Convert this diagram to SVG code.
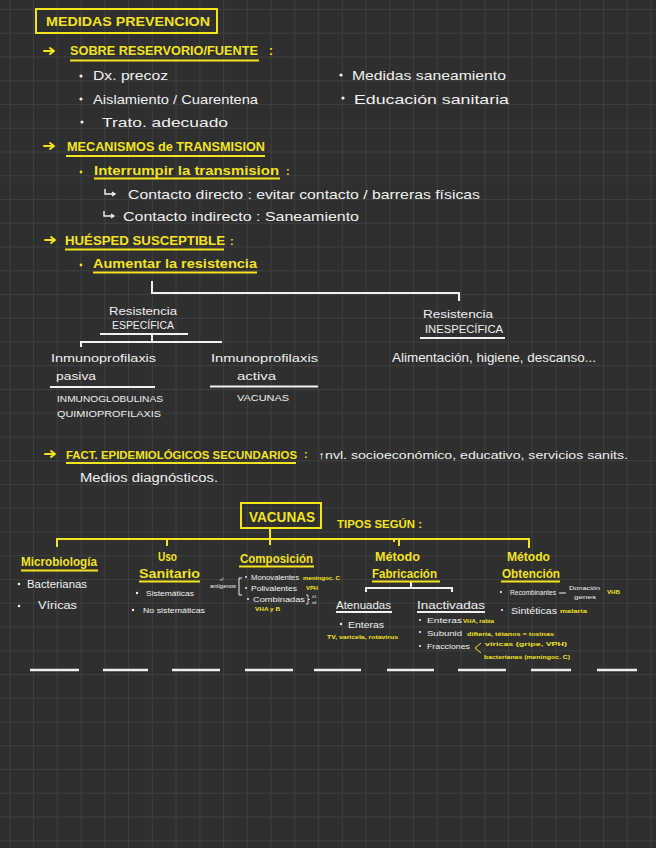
<svg xmlns="http://www.w3.org/2000/svg" width="656" height="848" viewBox="0 0 656 848">
<defs>
<pattern id="grid" x="9.3" y="9" width="23.75" height="23.75" patternUnits="userSpaceOnUse">
<path d="M0 0.5H23.75M0.5 0V23.75" stroke="#3f3f3f" stroke-width="1" fill="none"/>
</pattern>
<style>
text{font-family:"Liberation Sans","DejaVu Sans",sans-serif;}
.y{fill:#f4e41e;font-weight:bold;}
.w{fill:#f1f1f1;}
.ln{stroke:#f4e41e;stroke-width:2;fill:none;}
.wl{stroke:#f1f1f1;stroke-width:2;fill:none;}
.dot{fill:#f1f1f1;}
.ydot{fill:#f4e41e;}
.arr{stroke:#f4e41e;stroke-width:2;fill:none;stroke-linecap:round;stroke-linejoin:round;}
.hook{stroke:#f1f1f1;stroke-width:1.4;fill:none;}
</style>
</defs>
<rect width="656" height="848" fill="#2f2f2f"/>
<rect width="656" height="848" fill="url(#grid)"/>

<g id="title">
<rect x="36" y="9" width="181" height="24" class="ln"/>
<text x="46" y="26" class="y" font-size="13" textLength="164" lengthAdjust="spacingAndGlyphs">MEDIDAS PREVENCION</text>
</g>

<g id="reservorio">
<path d="M44 51H54M50 48L54 51L50 54" class="arr"/>
<text x="70" y="55" class="y" font-size="12" textLength="188" lengthAdjust="spacingAndGlyphs">SOBRE RESERVORIO/FUENTE</text>
<path d="M70 60.5H259" class="ln"/>
<text x="269" y="55" class="y" font-size="12">:</text>
<circle cx="81" cy="76" r="1.6" class="dot"/>
<text x="93" y="80" class="w" font-size="13" textLength="75" lengthAdjust="spacingAndGlyphs">Dx. precoz</text>
<circle cx="81" cy="99" r="1.6" class="dot"/>
<text x="93" y="104" class="w" font-size="13" textLength="165" lengthAdjust="spacingAndGlyphs">Aislamiento / Cuarentena</text>
<circle cx="82" cy="122" r="1.6" class="dot"/>
<text x="102" y="127" class="w" font-size="13" textLength="126" lengthAdjust="spacingAndGlyphs">Trato. adecuado</text>
<circle cx="341" cy="75" r="1.6" class="dot"/>
<text x="352" y="80" class="w" font-size="13" textLength="154" lengthAdjust="spacingAndGlyphs">Medidas saneamiento</text>
<circle cx="343" cy="98" r="1.6" class="dot"/>
<text x="354" y="104" class="w" font-size="13" textLength="155" lengthAdjust="spacingAndGlyphs">Educación sanitaria</text>
</g>

<g id="mecanismos">
<path d="M44 146H54M50 143L54 146L50 149" class="arr"/>
<text x="67" y="151" class="y" font-size="12" textLength="198" lengthAdjust="spacingAndGlyphs">MECANISMOS de TRANSMISION</text>
<path d="M66 156H265" class="ln"/>
<circle cx="81" cy="172" r="1.4" class="ydot"/>
<text x="94" y="175" class="y" font-size="12" textLength="185" lengthAdjust="spacingAndGlyphs">Interrumpir la transmision</text>
<path d="M94 178.5H280" class="ln"/>
<text x="286" y="175" class="y" font-size="11">:</text>
<path d="M105 189V194H115M112 192L115 194L112 196" class="hook"/>
<text x="128" y="199" class="w" font-size="13" textLength="352" lengthAdjust="spacingAndGlyphs">Contacto directo : evitar contacto / barreras físicas</text>
<path d="M104 211V216H114M111 214L114 216L111 218" class="hook"/>
<text x="123" y="221" class="w" font-size="13" textLength="236" lengthAdjust="spacingAndGlyphs">Contacto indirecto : Saneamiento</text>
</g>

<g id="huesped">
<path d="M45 240H55M51 237L55 240L51 243" class="arr"/>
<text x="65" y="245" class="y" font-size="12" textLength="160" lengthAdjust="spacingAndGlyphs">HUÉSPED SUSCEPTIBLE</text>
<path d="M65 249.5H224" class="ln"/>
<text x="230" y="245" class="y" font-size="11">:</text>
<circle cx="81" cy="265" r="1.4" class="ydot"/>
<text x="93" y="268" class="y" font-size="12" textLength="164" lengthAdjust="spacingAndGlyphs">Aumentar la resistencia</text>
<path d="M93 272.5H257" class="ln"/>
</g>

<g id="connectors">
<path d="M152 281V293H459V301" class="wl"/>
<path d="M152 334V342M81 347V342H222" class="wl"/>
<path d="M270 528V545M57 547V539H529V548M167 539V546M399 539V546M394 539V542" class="ln"/>
<path d="M411 581V588M366 592V588H452V592" class="wl"/>
</g>

<g id="especifica">
<text x="109" y="315" class="w" font-size="11" textLength="68" lengthAdjust="spacingAndGlyphs">Resistencia</text>
<text x="112" y="329" class="w" font-size="10" textLength="62" lengthAdjust="spacingAndGlyphs">ESPECÍFICA</text>
<path d="M100 334H188" class="wl"/>
</g>

<g id="pasiva">
<text x="51" y="362" class="w" font-size="11" textLength="105" lengthAdjust="spacingAndGlyphs">Inmunoprofilaxis</text>
<text x="56" y="380" class="w" font-size="11" textLength="40" lengthAdjust="spacingAndGlyphs">pasiva</text>
<path d="M50 387H155" class="wl"/>
<text x="57" y="402" class="w" font-size="9" textLength="106" lengthAdjust="spacingAndGlyphs">INMUNOGLOBULINAS</text>
<text x="57" y="417" class="w" font-size="9" textLength="104" lengthAdjust="spacingAndGlyphs">QUIMIOPROFILAXIS</text>
</g>

<g id="activa">
<text x="211" y="362" class="w" font-size="11" textLength="107" lengthAdjust="spacingAndGlyphs">Inmunoprofilaxis</text>
<text x="237" y="380" class="w" font-size="11" textLength="39" lengthAdjust="spacingAndGlyphs">activa</text>
<path d="M210 386.5H318" class="wl"/>
<text x="237" y="401" class="w" font-size="9" textLength="52" lengthAdjust="spacingAndGlyphs">VACUNAS</text>
</g>

<g id="inespecifica">
<text x="423" y="318" class="w" font-size="11" textLength="70" lengthAdjust="spacingAndGlyphs">Resistencia</text>
<text x="425" y="333" class="w" font-size="10" textLength="78" lengthAdjust="spacingAndGlyphs">INESPECÍFICA</text>
<path d="M420 338H505" class="wl"/>
<text x="392" y="362" class="w" font-size="12" textLength="204" lengthAdjust="spacingAndGlyphs">Alimentación, higiene, descanso...</text>
</g>

<g id="factores">
<path d="M45 454H55M51 451L55 454L51 457" class="arr"/>
<text x="66" y="459" class="y" font-size="11" textLength="231" lengthAdjust="spacingAndGlyphs">FACT. EPIDEMIOLÓGICOS SECUNDARIOS</text>
<path d="M66 463H296" class="ln"/>
<text x="304" y="458" class="y" font-size="11">:</text>
<text x="318" y="459" class="w" font-size="11" textLength="310" lengthAdjust="spacingAndGlyphs">↑nvl. socioeconómico, educativo, servicios sanits.</text>
<text x="80" y="482" class="w" font-size="12" textLength="138" lengthAdjust="spacingAndGlyphs">Medios diagnósticos.</text>
</g>

<g id="vacunas">
<rect x="241" y="503" width="80" height="25" class="ln"/>
<text x="249" y="522" class="y" font-size="15" textLength="66" lengthAdjust="spacingAndGlyphs">VACUNAS</text>
<text x="337" y="528" class="y" font-size="10" textLength="85" lengthAdjust="spacingAndGlyphs">TIPOS SEGÚN :</text>
</g>

<g id="microbiologia">
<text x="21" y="566" class="y" font-size="12" textLength="76" lengthAdjust="spacingAndGlyphs">Microbiología</text>
<path d="M21 570.5H98" class="ln"/>
<circle cx="19" cy="584" r="1.3" class="dot"/>
<text x="27" y="588" class="w" font-size="10" textLength="60" lengthAdjust="spacingAndGlyphs">Bacterianas</text>
<circle cx="19" cy="606" r="1.3" class="dot"/>
<text x="38" y="609" class="w" font-size="10" textLength="39" lengthAdjust="spacingAndGlyphs">Víricas</text>
</g>

<g id="uso-sanitario">
<text x="158" y="561" class="y" font-size="12" textLength="19" lengthAdjust="spacingAndGlyphs">Uso</text>
<text x="139" y="578" class="y" font-size="12" textLength="61" lengthAdjust="spacingAndGlyphs">Sanitario</text>
<path d="M139 581.5H200" class="ln"/>
<circle cx="137" cy="593" r="1.2" class="dot"/>
<text x="146" y="596" class="w" font-size="8" textLength="48" lengthAdjust="spacingAndGlyphs">Sistemáticas</text>
<circle cx="133" cy="610" r="1.2" class="dot"/>
<text x="143" y="613" class="w" font-size="8" textLength="62" lengthAdjust="spacingAndGlyphs">No sistemáticas</text>
</g>

<g id="composicion">
<text x="240" y="563" class="y" font-size="12" textLength="73" lengthAdjust="spacingAndGlyphs">Composición</text>
<path d="M239 566.5H314" class="ln"/>
<text x="220" y="581" class="w" font-size="4">nº</text>
<text x="210" y="588" class="w" font-size="5" textLength="26" lengthAdjust="spacingAndGlyphs">antígenos</text>
<path d="M242 578H239V595H242" stroke="#f1f1f1" stroke-width="1" fill="none"/>
<circle cx="246" cy="577" r="1" class="dot"/>
<text x="251" y="580" class="w" font-size="7" textLength="48" lengthAdjust="spacingAndGlyphs">Monovalentes</text>
<text x="303" y="580" class="y" font-size="5.5" font-weight="normal" textLength="37" lengthAdjust="spacingAndGlyphs">meningoc. C</text>
<circle cx="246" cy="588" r="1" class="dot"/>
<text x="251" y="591" class="w" font-size="7" textLength="46" lengthAdjust="spacingAndGlyphs">Polivalentes</text>
<text x="306" y="590" class="y" font-size="5.5" font-weight="normal" textLength="12" lengthAdjust="spacingAndGlyphs">VPH</text>
<circle cx="248" cy="599" r="1" class="dot"/>
<text x="253" y="602" class="w" font-size="7" textLength="52" lengthAdjust="spacingAndGlyphs">Combinadas</text>
<path d="M306 595H308V604H306M308 599.5H310" stroke="#f1f1f1" stroke-width="0.8" fill="none"/>
<text x="312" y="598" class="w" font-size="4">≥1</text>
<text x="312" y="604" class="w" font-size="4">inf</text>
<text x="255" y="611" class="y" font-size="5.5" font-weight="normal" textLength="25" lengthAdjust="spacingAndGlyphs">VHA y B</text>
</g>

<g id="fabricacion">
<text x="375" y="561" class="y" font-size="12" textLength="45" lengthAdjust="spacingAndGlyphs">Método</text>
<text x="372" y="578" class="y" font-size="12" textLength="65" lengthAdjust="spacingAndGlyphs">Fabricación</text>
<path d="M372 581.5H440" class="ln"/>
</g>

<g id="atenuadas">
<text x="336" y="609" class="w" font-size="10" textLength="55" lengthAdjust="spacingAndGlyphs">Atenuadas</text>
<path d="M336 612H392" class="wl" stroke-width="1.5"/>
<circle cx="341" cy="624" r="1.2" class="dot"/>
<text x="348" y="628" class="w" font-size="9" textLength="36" lengthAdjust="spacingAndGlyphs">Enteras</text>
<text x="327" y="639" class="y" font-size="5.5" font-weight="normal" textLength="71" lengthAdjust="spacingAndGlyphs">TV, varicela, rotavirus</text>
</g>

<g id="inactivadas">
<text x="417" y="609" class="w" font-size="10" textLength="68" lengthAdjust="spacingAndGlyphs">Inactivadas</text>
<path d="M417 612H485" class="wl" stroke-width="1.5"/>
<circle cx="420" cy="620" r="1.1" class="dot"/>
<text x="427" y="623" class="w" font-size="8" textLength="35" lengthAdjust="spacingAndGlyphs">Enteras</text>
<text x="463" y="623" class="y" font-size="5.5" font-weight="normal" textLength="31" lengthAdjust="spacingAndGlyphs">VHA, rabia</text>
<circle cx="420" cy="632" r="1.1" class="dot"/>
<text x="427" y="636" class="w" font-size="8" textLength="35" lengthAdjust="spacingAndGlyphs">Subunid</text>
<text x="467" y="636" class="y" font-size="5.5" font-weight="normal" textLength="87" lengthAdjust="spacingAndGlyphs">difteria, tétanos = toxinas</text>
<circle cx="420" cy="646" r="1.1" class="dot"/>
<text x="427" y="649" class="w" font-size="8" textLength="43" lengthAdjust="spacingAndGlyphs">Fracciones</text>
<path d="M481 643L475 648L481 653" stroke="#f4e41e" stroke-width="1" fill="none"/>
<text x="485" y="646" class="y" font-size="5.5" font-weight="normal" textLength="82" lengthAdjust="spacingAndGlyphs">víricas (gripe, VPH)</text>
<text x="484" y="659" class="y" font-size="5.5" font-weight="normal" textLength="86" lengthAdjust="spacingAndGlyphs">bacterianas (meningoc. C)</text>
</g>

<g id="obtencion">
<text x="507" y="561" class="y" font-size="12" textLength="43" lengthAdjust="spacingAndGlyphs">Método</text>
<text x="502" y="578" class="y" font-size="12" textLength="58" lengthAdjust="spacingAndGlyphs">Obtención</text>
<path d="M501 581.5H560" class="ln"/>
<circle cx="501" cy="592" r="1.1" class="dot"/>
<text x="510" y="595" class="w" font-size="8" textLength="46" lengthAdjust="spacingAndGlyphs">Recombinantes</text>
<path d="M559 593H566" stroke="#f1f1f1" stroke-width="1"/>
<text x="569" y="590" class="w" font-size="5.5" textLength="31" lengthAdjust="spacingAndGlyphs">Donación</text>
<text x="574" y="599" class="w" font-size="5.5" textLength="22" lengthAdjust="spacingAndGlyphs">genes</text>
<text x="607" y="594" class="y" font-size="5.5" font-weight="normal" textLength="13" lengthAdjust="spacingAndGlyphs">VHB</text>
<circle cx="502" cy="610" r="1.1" class="dot"/>
<text x="511" y="614" class="w" font-size="9" textLength="46" lengthAdjust="spacingAndGlyphs">Sintéticas</text>
<text x="560" y="613" class="y" font-size="5.5" font-weight="normal" textLength="27" lengthAdjust="spacingAndGlyphs">malaria</text>
</g>

<g id="dashes">
<path d="M30 670H79M103 670H148M172 670H220M245 670H293M314 670H361M387 670H434M458 670H506M531 670H571M597 670H637" stroke="#ededed" stroke-width="2.5" fill="none"/>
</g>
</svg>
